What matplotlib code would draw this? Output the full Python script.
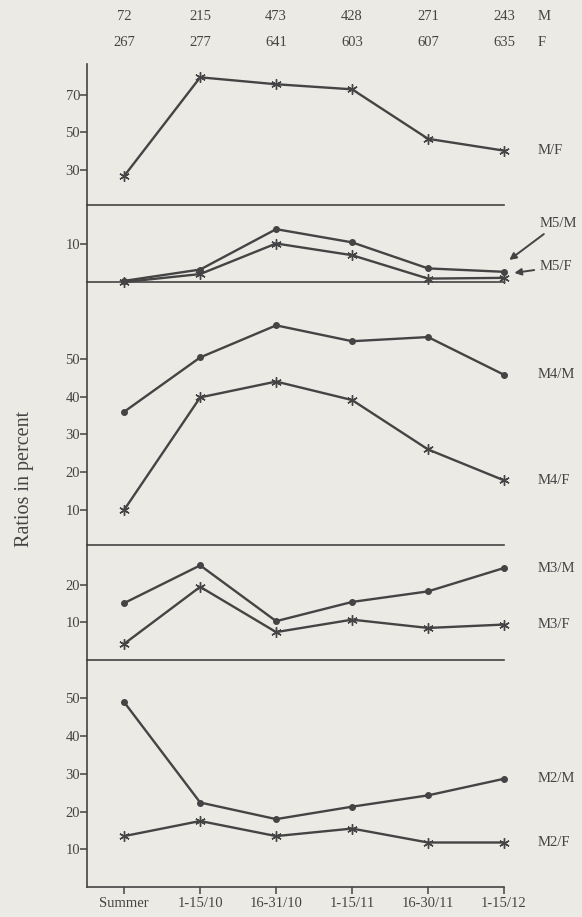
import numpy as np
import matplotlib
matplotlib.use("Agg")
import matplotlib.pyplot as plt
from matplotlib.transforms import blended_transform_factory

# periodos de muestreo
periods = ['Summer', '1-15/10', '16-31/10', '1-15/11', '16-30/11', '1-15/12']
n_male = [72, 215, 473, 428, 271, 243]
n_female = [267, 277, 641, 603, 607, 635]

# ratios en porcentaje
mf = [26.8, 79.4, 75.7, 73.0, 46.6, 40.3]
m5_m = [0.3, 3.3, 14.0, 10.5, 3.6, 2.7]
m5_f = [0.0, 2.1, 10.2, 7.1, 0.9, 1.1]
m4_m = [36.0, 50.4, 58.9, 54.7, 55.8, 45.8]
m4_f = [10.0, 39.8, 44.0, 39.1, 26.0, 17.8]
m3_m = [15.1, 25.1, 10.3, 15.4, 18.2, 24.4]
m3_f = [4.3, 19.4, 7.4, 10.7, 8.5, 9.4]
m2_m = [49.0, 22.4, 18.0, 21.3, 24.3, 28.7]
m2_f = [13.5, 17.5, 13.5, 15.5, 11.8, 11.8]

plt.rcParams['font.family'] = ['Liberation Serif', 'DejaVu Serif']
ink = '#444444'
bg = '#ebeae5'
fs = 10.5

W, H = 582, 917
fig = plt.figure(figsize=(W / 100, H / 100), dpi=100, facecolor=bg)

x = np.arange(len(periods))
left_px, right_px = 87, 504
xlim = (-0.49, 5.0)

# paneles: (top px, bottom px, ylim, yticks)
panels = [
    (64, 205, (11.3, 86.5), [30, 50, 70]),
    (205, 282, (0, 20.4), [10]),
    (282, 545, (0.66, 70.4), [10, 20, 30, 40, 50]),
    (545, 660, (0, 30.5), [10, 20]),
    (660, 887, (0, 60.2), [10, 20, 30, 40, 50]),
]

axes = []
for top, bot, yl, yt in panels:
    ax = fig.add_axes([left_px / W, 1 - bot / H, (right_px - left_px) / W, (bot - top) / H])
    ax.set_facecolor('none')
    ax.set_xlim(xlim)
    ax.set_ylim(yl)
    ax.set_yticks(yt)
    ax.tick_params(axis='y', direction='out', length=5, width=1.1, colors=ink, labelsize=fs, pad=0)
    ax.tick_params(axis='x', bottom=False, labelbottom=False)
    for s in ['top', 'right']:
        ax.spines[s].set_visible(False)
    ax.spines['left'].set_color(ink)
    ax.spines['bottom'].set_color(ink)
    ax.spines['left'].set_linewidth(1.2)
    ax.spines['bottom'].set_linewidth(1.2)
    axes.append(ax)

ax1, ax2, ax3, ax4, ax5 = axes

star = dict(marker=(6, 2, 0), markersize=7.5, markeredgewidth=1.0)
dot = dict(marker='o', markersize=4)
lw = 1.7


def serie(ax, vals, kind):
    st = star if kind == 'star' else dot
    ax.plot(x, vals, color=ink, lw=lw, clip_on=False, markerfacecolor=ink,
            markeredgecolor=ink, **st)


serie(ax1, mf, 'star')
serie(ax2, m5_m, 'dot')
serie(ax2, m5_f, 'star')
serie(ax3, m4_m, 'dot')
serie(ax3, m4_f, 'star')
serie(ax4, m3_m, 'dot')
serie(ax4, m3_f, 'star')
serie(ax5, m2_m, 'dot')
serie(ax5, m2_f, 'star')

lab_x = 5.44
ax1.text(lab_x, mf[-1], 'M/F', color=ink, fontsize=fs, va='center', ha='left')
ax3.text(lab_x, m4_m[-1], 'M4/M', color=ink, fontsize=fs, va='center', ha='left')
ax3.text(lab_x, m4_f[-1], 'M4/F', color=ink, fontsize=fs, va='center', ha='left')
ax4.text(lab_x, m3_m[-1], 'M3/M', color=ink, fontsize=fs, va='center', ha='left')
ax4.text(lab_x, m3_f[-1], 'M3/F', color=ink, fontsize=fs, va='center', ha='left')
ax5.text(lab_x, m2_m[-1], 'M2/M', color=ink, fontsize=fs, va='center', ha='left')
ax5.text(lab_x, m2_f[-1], 'M2/F', color=ink, fontsize=fs, va='center', ha='left')

# flechas del panel M5
arr = dict(arrowstyle='-|>', color=ink, lw=1.4, mutation_scale=10)
ax2.annotate('M5/M', xy=(5.04, 5.4), xytext=(5.47, 15.6), color=ink, fontsize=fs,
             va='center', ha='left', arrowprops=dict(**arr), annotation_clip=False)
ax2.annotate('M5/F', xy=(5.10, 2.3), xytext=(5.47, 4.0), color=ink, fontsize=fs,
             va='center', ha='left', arrowprops=dict(**arr), annotation_clip=False)

# numeros de individuos arriba
tr = blended_transform_factory(ax1.transData, fig.transFigure)
for i in range(len(periods)):
    ax1.text(x[i], 1 - 17 / H, str(n_male[i]), transform=tr, ha='center', va='center',
             color=ink, fontsize=fs)
    ax1.text(x[i], 1 - 43 / H, str(n_female[i]), transform=tr, ha='center', va='center',
             color=ink, fontsize=fs)
ax1.text(lab_x, 1 - 17 / H, 'M', transform=tr, ha='left', va='center', color=ink, fontsize=fs)
ax1.text(lab_x, 1 - 43 / H, 'F', transform=tr, ha='left', va='center', color=ink, fontsize=fs)

# eje x solo abajo
ax5.tick_params(axis='x', bottom=True, labelbottom=True, direction='out', length=5,
                width=1.1, colors=ink, labelsize=fs, pad=2)
ax5.set_xticks(x)
ax5.set_xticklabels(periods)
ax5.spines['bottom'].set_bounds(xlim[0], x[-1])

fig.text(25 / W, 1 - 479 / H, 'Ratios in percent', rotation=90, ha='center', va='center',
         color=ink, fontsize=14.5)

fig.savefig('out.png', dpi=100, facecolor=bg)
